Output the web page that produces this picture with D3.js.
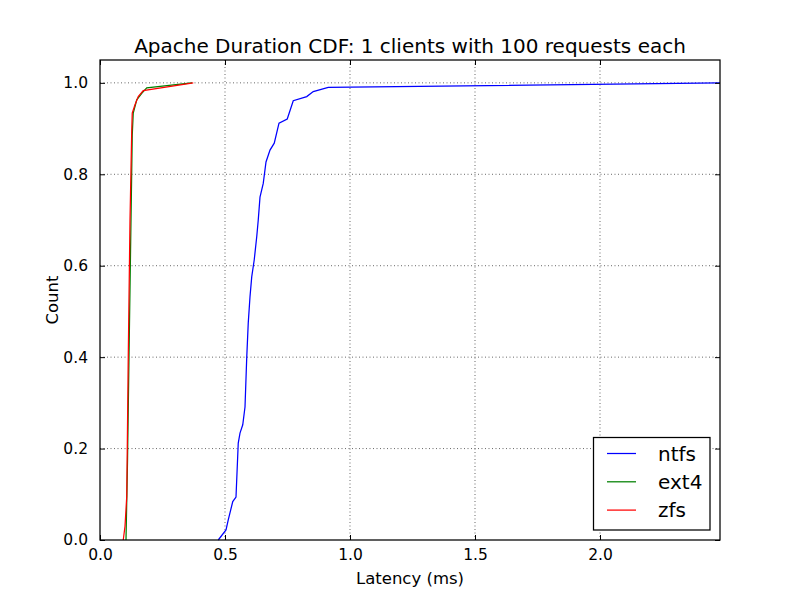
<!DOCTYPE html>
<html><head><meta charset="utf-8">
<script src="https://cdn.jsdelivr.net/npm/d3@7"></script>
<style>body{margin:0;background:#fff}svg{display:block}text{font-family:"DejaVu Sans",sans-serif;fill:#000}</style>
</head><body>
<script>
const title = "Apache Duration CDF: 1 clients with 100 requests each";
const xLabel = "Latency (ms)";
const yLabel = "Count";
const seriesNames = ["ntfs", "ext4", "zfs"];
const seriesColors = ["#0000ff", "#008000", "#ff0000"];
const xTicks = [0.0, 0.5, 1.0, 1.5, 2.0];
const yTicks = [0.0, 0.2, 0.4, 0.6, 0.8, 1.0];

const ntfsX = [0.473,0.504,0.513,0.531,0.544,0.553,0.560,0.571,0.580,0.587,0.593,0.600,0.607,0.617,0.627,0.633,0.640,0.653,0.664,0.680,0.697,0.716,0.749,0.773,0.827,0.853,0.913,2.48];
const ntfsY = [0.00,0.022,0.044,0.084,0.094,0.212,0.234,0.252,0.291,0.40,0.475,0.532,0.576,0.613,0.664,0.70,0.75,0.78,0.827,0.853,0.868,0.912,0.921,0.961,0.97,0.981,0.99,1.00];
const ext4X = [0.104,0.110,0.116,0.124,0.129,0.133,0.147,0.167,0.187,0.367];
const ext4Y = [0.00,0.17,0.40,0.70,0.886,0.934,0.963,0.977,0.989,1.00];
const zfsX = [0.093,0.100,0.107,0.113,0.120,0.127,0.129,0.140,0.153,0.173,0.373];
const zfsY = [0.00,0.03,0.095,0.40,0.70,0.897,0.934,0.952,0.97,0.983,1.00];

const W = 800, H = 600;
const m = {l:100, r:80, t:60, b:60};
const svg = d3.select("body").append("svg").attr("width", W).attr("height", H);
const x = d3.scaleLinear().domain([0, 2.48]).range([m.l, W - m.r]);
const y = d3.scaleLinear().domain([0, 1.05]).range([H - m.b, m.t]);

// grid
const g = svg.append("g");
g.selectAll(".gx").data(xTicks.filter(v => v > 0)).join("line")
  .attr("x1", d => x(d)).attr("x2", d => x(d)).attr("y1", m.t).attr("y2", H - m.b)
  .attr("stroke", "#000").attr("stroke-width", 0.6).attr("stroke-dasharray", "1,2.5");
g.selectAll(".gy").data(yTicks.filter(v => v > 0)).join("line")
  .attr("y1", d => y(d)).attr("y2", d => y(d)).attr("x1", m.l).attr("x2", W - m.r)
  .attr("stroke", "#000").attr("stroke-width", 0.6).attr("stroke-dasharray", "1,2.5");

// lines
const series = [[ntfsX, ntfsY], [ext4X, ext4Y], [zfsX, zfsY]];
const line = d3.line().x(d => x(d[0])).y(d => y(d[1]));
series.forEach((s, i) => {
  const pts = s[0].map((v, j) => [v, s[1][j]]);
  svg.append("path").attr("d", line(pts)).attr("fill", "none")
    .attr("stroke", seriesColors[i]).attr("stroke-width", 1.25);
});

// axes (ticks inside, all four sides)
const tl = 5;
const fmt = d3.format(".1f");
svg.append("g").attr("transform", `translate(0,${H - m.b})`)
  .call(d3.axisBottom(x).tickValues(xTicks).tickSizeInner(-tl).tickSizeOuter(0).tickPadding(9).tickFormat(fmt))
  .call(a => { a.select(".domain").remove(); a.selectAll("text").attr("font-size", 15.5).attr("font-family", "DejaVu Sans"); });
svg.append("g").attr("transform", `translate(0,${m.t})`)
  .call(d3.axisTop(x).tickValues(xTicks).tickSizeInner(-tl).tickSizeOuter(0).tickFormat(""))
  .call(a => a.select(".domain").remove());
svg.append("g").attr("transform", `translate(${m.l},0)`)
  .call(d3.axisLeft(y).tickValues(yTicks).tickSizeInner(-tl).tickSizeOuter(0).tickPadding(12).tickFormat(fmt))
  .call(a => { a.select(".domain").remove(); a.selectAll("text").attr("font-size", 15.5).attr("font-family", "DejaVu Sans"); });
svg.append("g").attr("transform", `translate(${W - m.r},0)`)
  .call(d3.axisRight(y).tickValues(yTicks).tickSizeInner(-tl).tickSizeOuter(0).tickFormat(""))
  .call(a => a.select(".domain").remove());
svg.selectAll(".tick line").attr("stroke", "#000").attr("stroke-width", 1);

svg.append("rect").attr("x", m.l).attr("y", m.t).attr("width", W - m.l - m.r).attr("height", H - m.t - m.b)
  .attr("fill", "none").attr("stroke", "#000").attr("stroke-width", 1.25);

// title & labels
svg.append("text").attr("x", (m.l + W - m.r) / 2).attr("y", 53).attr("text-anchor", "middle")
  .attr("font-size", 20).text(title);
svg.append("text").attr("x", (m.l + W - m.r) / 2).attr("y", 584).attr("text-anchor", "middle")
  .attr("font-size", 16.5).text(xLabel);
svg.append("text").attr("transform", `translate(58,${(m.t + H - m.b) / 2}) rotate(-90)`).attr("text-anchor", "middle")
  .attr("font-size", 16.5).text(yLabel);

// legend
const lg = svg.append("g");
lg.append("rect").attr("x", 593.5).attr("y", 437.5).attr("width", 116.5).attr("height", 92.5)
  .attr("fill", "#fff").attr("stroke", "#000").attr("stroke-width", 1.25);
seriesNames.forEach((n, i) => {
  const yy = 453.5 + i * 28.3;
  lg.append("line").attr("x1", 607).attr("x2", 636).attr("y1", yy).attr("y2", yy)
    .attr("stroke", seriesColors[i]).attr("stroke-width", 1.25);
  lg.append("text").attr("x", 658).attr("y", yy).attr("dy", "0.35em").attr("font-size", 20).text(n);
});
</script>
</body></html>
